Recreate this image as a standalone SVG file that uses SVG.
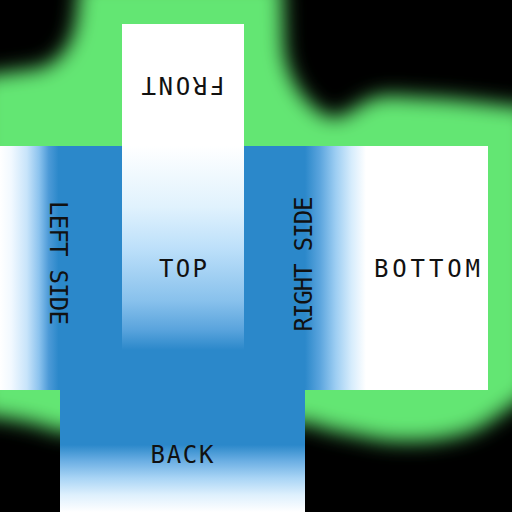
<svg xmlns="http://www.w3.org/2000/svg" width="512" height="512" viewBox="0 0 512 512">
<style>
.lbl{font-family:"DejaVu Sans Mono","Liberation Mono",monospace;font-size:24px;fill:#111;text-anchor:middle;dominant-baseline:central}
</style>
<defs>
<filter id="glow" x="-20%" y="-20%" width="140%" height="140%"><feGaussianBlur stdDeviation="10"/></filter>
<linearGradient id="gLeft" x1="0" y1="0" x2="1" y2="0">
<stop offset="0" stop-color="#ffffff"/><stop offset="0.09" stop-color="#f2f9ff"/><stop offset="0.22" stop-color="#c8e4fa"/><stop offset="0.32" stop-color="#8cc3ee"/><stop offset="0.4" stop-color="#4c9ad7"/><stop offset="0.48" stop-color="#2b88ca"/><stop offset="1" stop-color="#2b88ca"/>
</linearGradient>
<linearGradient id="gRight" x1="0" y1="0" x2="1" y2="0">
<stop offset="0" stop-color="#2b88ca"/><stop offset="0.5" stop-color="#2b88ca"/><stop offset="0.62" stop-color="#5aa4dd"/><stop offset="0.75" stop-color="#9ccdf2"/><stop offset="0.88" stop-color="#d6ecfc"/><stop offset="1" stop-color="#ffffff"/>
</linearGradient>
<linearGradient id="gTop" x1="0" y1="0" x2="0" y2="1">
<stop offset="0" stop-color="#ffffff"/><stop offset="0.3" stop-color="#e0f2fd"/><stop offset="0.5" stop-color="#bde0fa"/><stop offset="0.76" stop-color="#88c1ec"/><stop offset="0.9" stop-color="#5aa4dd"/><stop offset="1" stop-color="#2b88ca"/>
</linearGradient>
<linearGradient id="gBack" x1="0" y1="0" x2="0" y2="1">
<stop offset="0" stop-color="#2b88ca"/><stop offset="0.45" stop-color="#2b88ca"/><stop offset="0.58" stop-color="#6aaee3"/><stop offset="0.72" stop-color="#a8d4f5"/><stop offset="0.86" stop-color="#def0fd"/><stop offset="1" stop-color="#ffffff"/>
</linearGradient>
</defs>
<rect width="512" height="512" fill="#000"/>
<path d="M-20,76 L40,68 Q70,58 76,20 L80,-20 L282,-20 L284,50 Q290,90 320,112 Q335,124 355,108 Q375,92 400,96 L450,99 Q480,102 530,108 L530,392 Q505,412 480,428 Q440,446 380,440 L330,430 L305,422 L60,432 Q30,420 -20,415 Z" fill="#64e673" filter="url(#glow)"/>
<g id="front">
<rect x="122" y="24" width="122" height="122" fill="#ffffff"/>
<text class="lbl" transform="translate(183,85) rotate(180)" textLength="83" lengthAdjust="spacing">FRONT</text>
</g>
<g id="left-side">
<rect x="0" y="146" width="122" height="244" fill="url(#gLeft)"/>
<text class="lbl" transform="translate(58,263) rotate(90)" textLength="124" lengthAdjust="spacing">LEFT SIDE</text>
</g>
<g id="top">
<rect x="122" y="146" width="122" height="244" fill="#2b88ca"/>
<rect x="122" y="146" width="122" height="204" fill="url(#gTop)"/>
<text class="lbl" x="183" y="269" textLength="48" lengthAdjust="spacing">TOP</text>
</g>
<g id="right-side">
<rect x="244" y="146" width="122" height="244" fill="url(#gRight)"/>
<text class="lbl" transform="translate(304,264) rotate(-90)" textLength="135" lengthAdjust="spacing">RIGHT SIDE</text>
</g>
<g id="bottom">
<rect x="366" y="146" width="122" height="244" fill="#ffffff"/>
<text class="lbl" x="427" y="269" textLength="106" lengthAdjust="spacing">BOTTOM</text>
</g>
<g id="back">
<rect x="60" y="390" width="245" height="122" fill="url(#gBack)"/>
<text class="lbl" x="182" y="455" textLength="63" lengthAdjust="spacing">BACK</text>
</g>
<g id="connectors"/>
</svg>
